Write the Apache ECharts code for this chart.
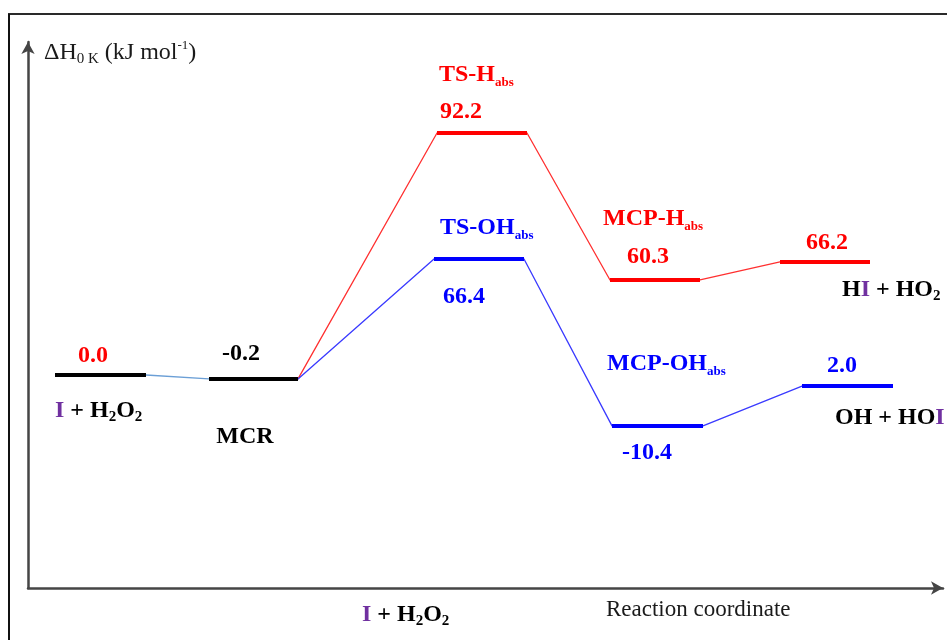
<!DOCTYPE html>
<html><head><meta charset="utf-8">
<script src="https://cdn.jsdelivr.net/npm/echarts/dist/echarts.min.js"></script>
<style>html,body{margin:0;padding:0;background:#fff}#c{width:947px;height:640px}</style>
</head><body><div id="c"></div>
<script>
// ---------------- data ----------------
const levelNames    = ['I + H2O2', 'MCR', 'TS-Habs', 'TS-OHabs', 'MCP-Habs', 'MCP-OHabs', 'HI + HO2', 'OH + HOI'];
const levelEnergies = [0.0, -0.2, 92.2, 66.4, 60.3, -10.4, 66.2, 2.0];        // kJ/mol labels
const drawnHeights  = [0.0, -1.5, 92.2, 44.2, 36.2, -19.4, 43.1, -4.2];       // schematic heights as drawn
const levelStart    = [27, 181, 409, 406, 582, 584, 752, 774];                // reaction coordinate (arb.)
const levelEnd      = [118, 270, 499, 496, 672, 675, 842, 865];
const pathCommon = [0, 1];
const pathH      = [1, 2, 4, 6];
const pathOH     = [1, 3, 5, 7];
const axisTitle  = 'ΔH0 K (kJ mol-1)';
const xTitle     = 'Reaction coordinate';
const bottomName = 'I + H2O2';

// ---------------- style ----------------
const FONT = '"Liberation Serif", "Times New Roman", serif';
const RED = '#ff0000', BLUE = '#0000ff', BLACK = '#000000', PURPLE = '#7030a0';
const levelColor = [BLACK, BLACK, RED, BLUE, RED, BLUE, RED, BLUE];
const valueColor = [RED, BLACK, RED, BLUE, RED, BLUE, RED, BLUE];
const nameColor  = [BLACK, BLACK, RED, BLUE, RED, BLUE, BLACK, BLACK];
// [dx, dy, align] relative to level left end
const nameLayout  = [[0,36,'left'],[36,58,'center'],[2,-58,'left'],[6,-31,'left'],[-7,-61,'left'],[-5,-62,'left'],[62,28,'left'],[33,32,'left']];
const valueLayout = [[38,-19,'center'],[32,-25,'center'],[3,-21,'left'],[9,38,'left'],[17,-23,'left'],[10,27,'left'],[47,-19,'center'],[40,-20,'center']];

function richName(name) {
  let rest = name, suffix = '';
  if (rest.endsWith('abs')) { rest = rest.slice(0, -3); suffix = '{a|abs}'; }
  const toks = [];
  for (const ch of rest) {
    const k = ch === 'I' ? 'p' : (/[0-9]/.test(ch) ? 's' : 'b');
    if (toks.length && toks[toks.length-1].k === k) toks[toks.length-1].t += ch;
    else toks.push({k, t: ch});
  }
  return toks.map(o => '{' + o.k + '|' + o.t + '}').join('') + suffix;
}
function richStyles(color, weight) {
  weight = weight || 'bold';
  return {
    b: {fill: color, fontFamily: FONT, fontWeight: weight, fontSize: 24, lineHeight: 28, verticalAlign: 'middle'},
    p: {fill: PURPLE, fontFamily: FONT, fontWeight: weight, fontSize: 24, lineHeight: 28, verticalAlign: 'middle'},
    s: {fill: color, fontFamily: FONT, fontWeight: weight, fontSize: 15, lineHeight: 15, verticalAlign: 'bottom'},
    a: {fill: color, fontFamily: FONT, fontWeight: weight, fontSize: 13, lineHeight: 13, verticalAlign: 'bottom'},
    u: {fill: color, fontFamily: FONT, fontWeight: weight, fontSize: 13, lineHeight: 13, verticalAlign: 'top'}
  };
}
function pathPoints(path) {
  const pts = [];
  path.forEach(i => { pts.push([levelStart[i], drawnHeights[i]]); pts.push([levelEnd[i], drawnHeights[i]]); });
  return pts;
}

const chart = echarts.init(document.getElementById('c'));
const axisCommon = {
  axisLine: {show: true, onZero: false, symbol: ['none', 'arrow'], symbolSize: [10, 12],
             lineStyle: {color: '#454545', width: 2.5}},
  axisTick: {show: false}, axisLabel: {show: false}, splitLine: {show: false}
};
const levelData = levelNames.map((n, i) => [levelStart[i], levelEnd[i], drawnHeights[i], i]);

chart.setOption({
  animation: false,
  backgroundColor: '#ffffff',
  grid: {left: 28, right: 4, top: 42, bottom: 52},
  xAxis: Object.assign({type: 'value', min: 0, max: 915}, axisCommon),
  yAxis: Object.assign({type: 'value', min: -81.15, max: 126.87}, axisCommon),
  series: [
    {type: 'line', data: pathPoints(pathCommon), showSymbol: false, z: 2,
     lineStyle: {color: '#6b9fd6', width: 1.3}},
    {type: 'line', data: pathPoints(pathH), showSymbol: false, z: 2,
     lineStyle: {color: '#ff3030', width: 1.3}},
    {type: 'line', data: pathPoints(pathOH), showSymbol: false, z: 2,
     lineStyle: {color: '#3a3aff', width: 1.3}},
    {type: 'custom', z: 5, data: levelData,
     encode: {x: [0, 1], y: 2},
     renderItem: function (params, api) {
       const i = api.value(3);
       const p0 = api.coord([api.value(0), api.value(2)]);
       const p1 = api.coord([api.value(1), api.value(2)]);
       const nl = nameLayout[i], vl = valueLayout[i];
       return {type: 'group', children: [
         {type: 'line', shape: {x1: p0[0], y1: p0[1], x2: p1[0], y2: p1[1]},
          style: {stroke: levelColor[i], lineWidth: 4}},
         {type: 'text', x: p0[0] + vl[0], y: p0[1] + vl[1],
          style: {text: '{b|' + levelEnergies[i].toFixed(1) + '}', rich: richStyles(valueColor[i]),
                  align: vl[2], verticalAlign: 'middle'}},
         {type: 'text', x: p0[0] + nl[0], y: p0[1] + nl[1],
          style: {text: richName(levelNames[i]), rich: richStyles(nameColor[i]),
                  align: nl[2], verticalAlign: 'middle'}}
       ]};
     }}
  ],
  graphic: [
    {type: 'line', shape: {x1: 8, y1: 14, x2: 947, y2: 14}, style: {stroke: '#2a2a2a', lineWidth: 2}},
    {type: 'line', shape: {x1: 9, y1: 14, x2: 9, y2: 640}, style: {stroke: '#111', lineWidth: 2}},
    {type: 'text', x: 44, y: 53,
     style: {text: '{b|ΔH}{s|0 K}{b| (kJ mol}{u|-1}{b|)}', rich: richStyles('#1a1a1a', 'normal'),
             align: 'left', verticalAlign: 'middle'}},
    {type: 'text', x: 362, y: 615,
     style: {text: richName(bottomName), rich: richStyles(BLACK), align: 'left', verticalAlign: 'middle'}},
    {type: 'text', x: 606, y: 610,
     style: {text: xTitle, fill: '#1a1a1a', font: '23px ' + FONT, align: 'left', verticalAlign: 'middle'}}
  ]
});
</script>
</body></html>
